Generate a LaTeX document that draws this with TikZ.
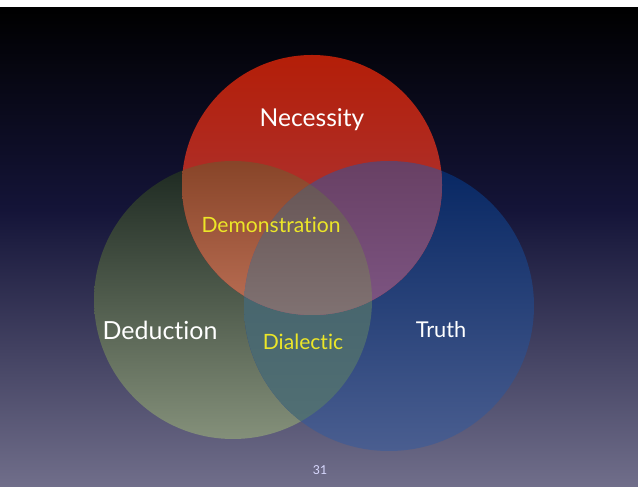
\documentclass[tikz,border=0pt]{standalone}
\usepackage{fontspec}
\setmainfont{Lato}[Ligatures=NoCommon]
\usepackage{tikz}

\definecolor{bgmid}{RGB}{20,20,56}
\definecolor{bgbot}{RGB}{112,110,138}
\definecolor{redtop}{RGB}{180,30,8}
\definecolor{redbot}{RGB}{168,62,72}
\definecolor{greentop}{RGB}{28,40,32}
\definecolor{greenbot}{RGB}{132,144,122}
\definecolor{bluetop}{RGB}{6,38,98}
\definecolor{bluebot}{RGB}{74,94,144}
\definecolor{rgtop}{RGB}{135,68,40}
\definecolor{rgbot}{RGB}{188,112,86}
\definecolor{rbtop}{RGB}{104,64,100}
\definecolor{rbbot}{RGB}{126,86,132}
\definecolor{gbtop}{RGB}{62,92,104}
\definecolor{gbbot}{RGB}{82,112,116}
\definecolor{midtop}{RGB}{102,84,84}
\definecolor{midbot}{RGB}{128,114,114}
\definecolor{labelyellow}{RGB}{236,230,40}

\begin{document}
\begin{tikzpicture}[x=0.02cm, y=0.02cm,
    every node/.style={font=\fontsize{14}{16}\selectfont, text=white, inner sep=0pt},
    hilite/.style={text=labelyellow}]
  % slide
  \fill[white] (0,0) rectangle (638,493);
  \shade[top color=black, bottom color=bgmid] (0,283) rectangle (638,485);
  \shade[top color=bgmid, bottom color=bgbot] (0,7) rectangle (638,283.5);

  \coordinate (nec) at (312,308);
  \coordinate (ded) at (233,193);
  \coordinate (tru) at (389,187);

  % circles
  \shade[top color=greentop, bottom color=greenbot] (ded) circle (139);
  \shade[top color=bluetop, bottom color=bluebot] (tru) circle (145);
  \shade[top color=redtop, bottom color=redbot] (nec) circle (130);

  % overlaps
  \begin{scope}
    \clip (ded) circle (139);
    \clip (tru) circle (145);
    \shade[top color=gbtop, bottom color=gbbot] (240,60) rectangle (380,320);
  \end{scope}
  \begin{scope}
    \clip (nec) circle (130);
    \clip (ded) circle (139);
    \shade[top color=rgtop, bottom color=rgbot] (180,175) rectangle (380,334);
  \end{scope}
  \begin{scope}
    \clip (nec) circle (130);
    \clip (tru) circle (145);
    \shade[top color=rbtop, bottom color=rbbot] (240,175) rectangle (445,332);
  \end{scope}
  \begin{scope}
    \clip (nec) circle (130);
    \clip (ded) circle (139);
    \clip (tru) circle (145);
    \shade[top color=midtop, bottom color=midbot] (240,175) rectangle (380,320);
  \end{scope}

  % labels
  \node (necessity) at (312,373) {Necessity};
  \node[hilite, font=\fontsize{12}{14}\selectfont] (demonstration) at (271,268) {Demonstration};
  \node[font=\fontsize{14.2}{16}\selectfont] (deduction) at (160,163) {Deduction};
  \node[hilite, font=\fontsize{12}{14}\selectfont] (dialectic) at (303,151) {Dialectic};
  \node[font=\fontsize{12.4}{15}\selectfont] (truth) at (441,163) {Truth};
  \node[font=\fontsize{7}{8}\selectfont, text=white!85!blue] (page) at (320,23) {31};
\end{tikzpicture}
\end{document}
